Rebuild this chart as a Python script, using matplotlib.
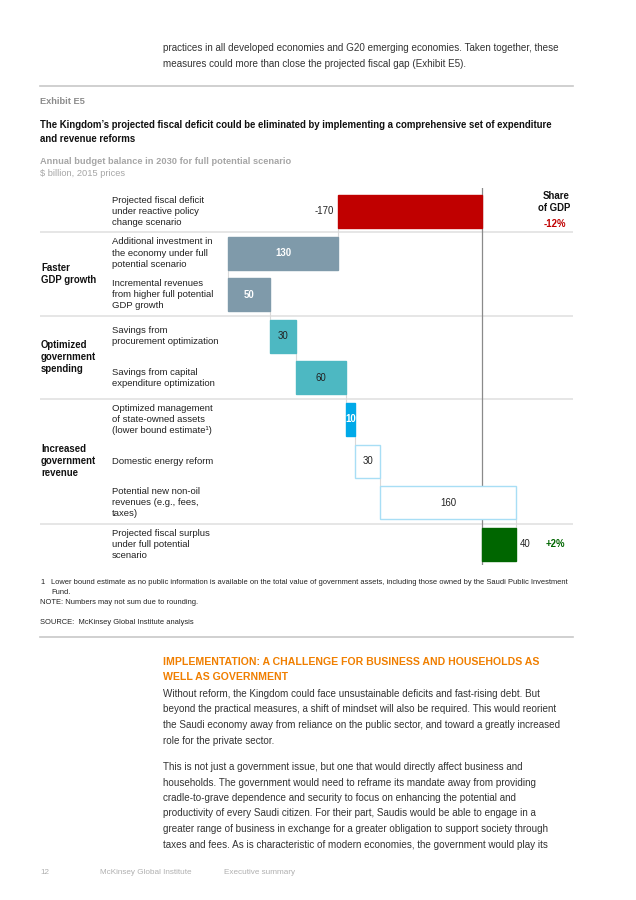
import matplotlib
matplotlib.use('Agg')
import matplotlib.pyplot as plt
import matplotlib.transforms as mtransforms

plt.rcParams['font.family'] = ['Liberation Sans', 'DejaVu Sans']

W, H = 636, 900

# Datele graficului (miliarde $, preturi 2015)
item_labels = [
    'Projected fiscal deficit\nunder reactive policy\nchange scenario',
    'Additional investment in\nthe economy under full\npotential scenario',
    'Incremental revenues\nfrom higher full potential\nGDP growth',
    'Savings from\nprocurement optimization',
    'Savings from capital\nexpenditure optimization',
    'Optimized management\nof state-owned assets\n(lower bound estimate¹)',
    'Domestic energy reform',
    'Potential new non-oil\nrevenues (e.g., fees,\ntaxes)',
    'Projected fiscal surplus\nunder full potential\nscenario',
]
values = [-170, -130, 50, 30, 60, 10, 30, 160, 40]
value_text = ['-170', '130', '50', '30', '60', '10', '30', '160', '40']
group_labels = ['Faster\nGDP growth', 'Optimized\ngovernment\nspending', 'Increased\ngovernment\nrevenue']
group_rows = [1.5, 3.5, 6]
share_of_gdp = ['-12%', '+2%']

bar_colors = ['#C00000', '#7F9AAA', '#7F9AAA', '#4DB8C2', '#4DB8C2', '#00A9E8', 'white', 'white', '#006600']
edge_colors = ['#C00000', '#7F9AAA', '#7F9AAA', '#4DB8C2', '#4DB8C2', '#00A9E8', '#A8DEF5', '#A8DEF5', '#006600']
text_colors = ['#222222', 'white', 'white', '#222222', '#222222', 'white', '#222222', '#222222', '#222222']

para_top = ['practices in all developed economies and G20 emerging economies. Taken together, these',
            'measures could more than close the projected fiscal gap (Exhibit E5).']
heading = ['IMPLEMENTATION: A CHALLENGE FOR BUSINESS AND HOUSEHOLDS AS', 'WELL AS GOVERNMENT']
para_1 = ['Without reform, the Kingdom could face unsustainable deficits and fast-rising debt. But',
          'beyond the practical measures, a shift of mindset will also be required. This would reorient',
          'the Saudi economy away from reliance on the public sector, and toward a greatly increased',
          'role for the private sector.']
para_2 = ['This is not just a government issue, but one that would directly affect business and',
          'households. The government would need to reframe its mandate away from providing',
          'cradle-to-grave dependence and security to focus on enhancing the potential and',
          'productivity of every Saudi citizen. For their part, Saudis would be able to engage in a',
          'greater range of business in exchange for a greater obligation to support society through',
          'taxes and fees. As is characteristic of modern economies, the government would play its']

fig = plt.figure(figsize=(W / 100, H / 100), dpi=100)


def ftext(x, y, s, **kw):
    return fig.text(x / W, 1 - y / H, s, **kw)


def rule(y, x0=40, x1=573):
    fig.add_artist(plt.Line2D([x0 / W, x1 / W], [1 - y / H, 1 - y / H], color='#C8C8C8', lw=1.2))


# Textul de sus
body = dict(fontsize=7.15, color='#333333', va='center')
for i, line in enumerate(para_top):
    ftext(163, 48 + 16 * i, line, **body)
rule(86)
ftext(40, 101, 'Exhibit E5', fontsize=6.7, color='#8C8C8C', fontweight='bold', va='center')
ftext(40, 125, 'The Kingdom\u2019s projected fiscal deficit could be eliminated by implementing a comprehensive set of expenditure',
      fontsize=6.9, fontweight='bold', color='#111111', va='center')
ftext(40, 138.5, 'and revenue reforms', fontsize=6.9, fontweight='bold', color='#111111', va='center')
ftext(40, 161, 'Annual budget balance in 2030 for full potential scenario', fontsize=6.7, fontweight='bold',
      color='#A6A6A6', va='center')
ftext(40, 174, '$ billion, 2015 prices', fontsize=6.7, color='#A6A6A6', va='center')

# Graficul cascada
ax_left, ax_right, ax_top, ax_bottom = 40, 573, 188, 565
ax = fig.add_axes([ax_left / W, 1 - ax_bottom / H, (ax_right - ax_left) / W, (ax_bottom - ax_top) / H])
zero_px, scale = 482, 0.847
ax.set_xlim((ax_left - zero_px) / scale, (ax_right - zero_px) / scale)
row0, step = 211.5, 41.6
ax.set_ylim((ax_bottom - row0) / step, (ax_top - row0) / step)
ax.axis('off')

n = len(values)
starts, ends = [], []
cum = 0
for i, v in enumerate(values):
    if i == 0 or i == n - 1:
        s, e = 0, v
    else:
        s, e = cum, cum + v
    starts.append(s)
    ends.append(e)
    cum = e

rows = list(range(n))
bh = 0.79
for y in [0.5, 2.5, 4.5, 7.5]:
    ax.axhline(y, color='#E2E2E2', lw=1.2, zorder=0)
ax.axvline(0, color='#8A8A8A', lw=0.9, zorder=1)
for i in range(n - 1):
    ax.plot([ends[i], ends[i]], [i + bh / 2, i + 1 - bh / 2], color='#D9D9D9', lw=0.8, zorder=1)

ax.barh(rows, [e - s for s, e in zip(starts, ends)], left=starts, height=bh,
        color=bar_colors, edgecolor=edge_colors, linewidth=1.0, zorder=2)

for i in rows:
    if i == 0:
        ax.annotate(value_text[i], (min(starts[i], ends[i]), i), xytext=(-3, 0), textcoords='offset points',
                    ha='right', va='center', fontsize=6.9, color=text_colors[i])
    elif i == n - 1:
        ax.annotate(value_text[i], (max(starts[i], ends[i]), i), xytext=(3, 0), textcoords='offset points',
                    ha='left', va='center', fontsize=6.9, color=text_colors[i])
    else:
        bold = 'bold' if text_colors[i] == 'white' else 'normal'
        ax.text((starts[i] + ends[i]) / 2, i, value_text[i], ha='center', va='center', fontsize=6.9,
                color=text_colors[i], fontweight=bold, zorder=3)

trans = mtransforms.blended_transform_factory(fig.transFigure, ax.transData)
for i, lab in enumerate(item_labels):
    ax.text(112 / W, i, lab, transform=trans, ha='left', va='center', fontsize=6.8, color='#222222',
            linespacing=1.3)
for g, r in zip(group_labels, group_rows):
    ax.text(41 / W, r, g, transform=trans, ha='left', va='center', fontsize=6.9, fontweight='bold',
            color='#111111', linespacing=1.25)

ftext(570, 202, 'Share\nof GDP', fontsize=6.9, fontweight='bold', color='#111111', ha='right', va='center',
      linespacing=1.2)
ftext(555, 224, share_of_gdp[0], fontsize=6.9, fontweight='bold', color='#C00000', ha='center', va='center')
ax.text(555 / W, n - 1, share_of_gdp[1], transform=trans, fontsize=6.9, fontweight='bold', color='#006600',
        ha='center', va='center')

# Note
note = dict(fontsize=5.45, color='#222222', va='center')
ftext(40, 583, '1', **note)
ftext(51, 583, 'Lower bound estimate as no public information is available on the total value of government assets, '
      'including those owned by the Saudi Public Investment', **note)
ftext(51, 593, 'Fund.', **note)
ftext(40, 602, 'NOTE: Numbers may not sum due to rounding.', **note)
ftext(40, 622, 'SOURCE:  McKinsey Global Institute analysis', **note)
rule(637)

# Textul de jos
for i, line in enumerate(heading):
    ftext(163, 662 + 15 * i, line, fontsize=7.6, fontweight='bold', color='#F07F00', va='center')
for i, line in enumerate(para_1):
    ftext(163, 694 + 15.5 * i, line, **body)
for i, line in enumerate(para_2):
    ftext(163, 767 + 15.5 * i, line, **body)

foot = dict(fontsize=5.9, color='#B0B0B0', va='center')
ftext(40, 873, '12', **foot)
ftext(100, 873, 'McKinsey Global Institute', **foot)
ftext(224, 873, 'Executive summary', **foot)

plt.savefig('out.png', dpi=100)
